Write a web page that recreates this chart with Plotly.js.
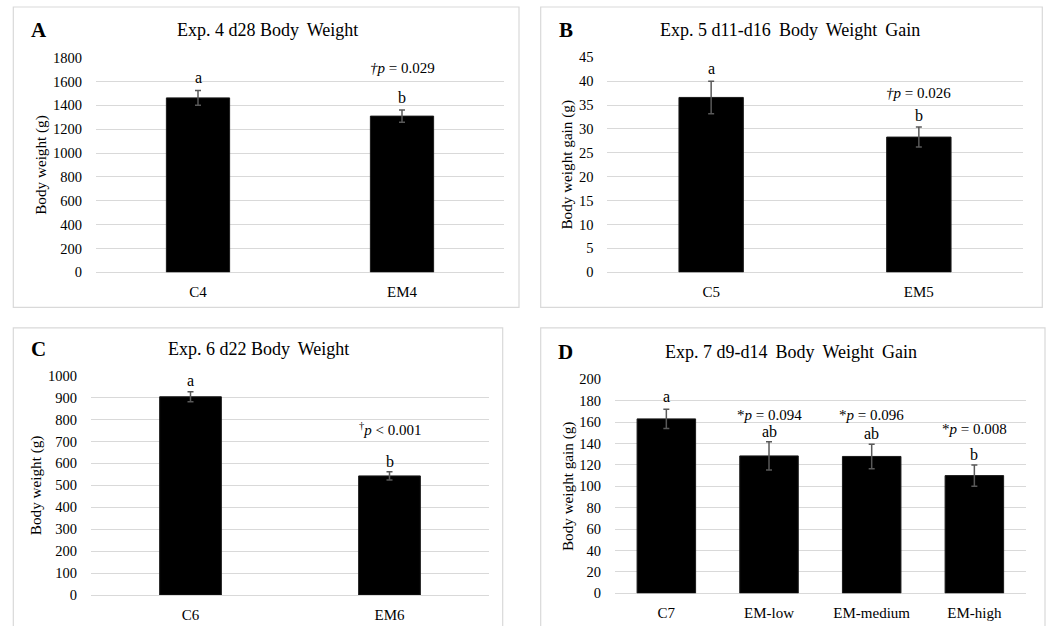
<!DOCTYPE html>
<html>
<head>
<meta charset="utf-8">
<script src="https://cdn.plot.ly/plotly-3.0.1.min.js"></script>
<style>
  html, body { margin: 0; padding: 0; background: #fff; }
  #chart { width: 1047px; height: 626px; }
</style>
</head>
<body>
<div id="chart"></div>
<script>
// Panel A: Exp. 4, day-28 body weight
const catsA = ['C4', 'EM4'];
const valsA = [1463, 1310];
const errA = [61, 52];
const lettersA = ['a', 'b'];
const pTextA = [null, '<i>\u2020p</i> = 0.029'];

// Panel B: Exp. 5, d11–d16 body weight gain
const catsB = ['C5', 'EM5'];
const valsB = [36.6, 28.3];
const errB = [3.4, 2.1];
const lettersB = ['a', 'b'];
const pTextB = [null, '<i>\u2020p</i> = 0.026'];

// Panel C: Exp. 6, day-22 body weight
const catsC = ['C6', 'EM6'];
const valsC = [904, 543];
const errC = [23, 19];
const lettersC = ['a', 'b'];
const pTextC = [null, '<sup>\u2020</sup><i>p</i> &lt; 0.001'];

// Panel D: Exp. 7, d9–d14 body weight gain
const catsD = ['C7', 'EM-low', 'EM-medium', 'EM-high'];
const valsD = [163, 128.4, 127.9, 110];
const errD = [9, 13.2, 11.5, 10];
const lettersD = ['a', 'ab', 'ab', 'b'];
const pTextD = [null, '*<i>p</i> = 0.094', '*<i>p</i> = 0.096', '*<i>p</i> = 0.008'];

const W = 1047, H = 626;
const FONT = 'Liberation Serif, Times New Roman, serif';
const GRID = '#d9d9d9';
const px = v => v / W;
const py = v => 1 - v / H;

const panels = [
  { key: '', cats: catsA, vals: valsA, err: errA, letters: lettersA, p: pTextA,
    ytitle: 'Body weight (g)', range: [0, 1800], dtick: 200, barW: 0.31,
    dom: { x: [96, 504], y: [57.7, 272.3] },
    title: 'Exp. 4 d28 Body\u2009 Weight', tpos: [267, 30], tag: 'A', tagpos: [39, 30],
    letterShift: [13, 12], pShift: [0, 42],
    frame: [13.3, 7, 519, 307.3] },
  { key: '2', cats: catsB, vals: valsB, err: errB, letters: lettersB, p: pTextB,
    ytitle: 'Body weight gain (g)', range: [0, 45], dtick: 5, barW: 0.31,
    dom: { x: [607.3, 1022.7], y: [57.3, 272.3] },
    title: 'Exp. 5 d11-d16\u2009 Body\u2009 Weight\u2009 Gain', tpos: [790, 30], tag: 'B', tagpos: [565.5, 30],
    letterShift: [13, 11.5], pShift: [0, 34.5],
    frame: [540.7, 7, 1042.3, 307.3] },
  { key: '3', cats: catsC, vals: valsC, err: errC, letters: lettersC, p: pTextC,
    ytitle: 'Body weight (g)', range: [0, 1000], dtick: 100, barW: 0.31,
    dom: { x: [91, 489], y: [375.7, 595] },
    title: 'Exp. 6 d22 Body\u2009 Weight', tpos: [258.3, 349.3], tag: 'C', tagpos: [38.5, 349.3],
    letterShift: [11, 10], pShift: [0, 42.5],
    frame: [13.3, 327.8, 502.7, 640] },
  { key: '4', cats: catsD, vals: valsD, err: errD, letters: lettersD, p: pTextD,
    ytitle: 'Body weight gain (g)', range: [0, 200], dtick: 20, barW: 0.57,
    dom: { x: [615, 1025.7], y: [379.3, 593.3] },
    title: 'Exp. 7 d9-d14\u2009 Body\u2009 Weight\u2009 Gain', tpos: [791, 351.7], tag: 'D', tagpos: [565, 351.7],
    letterShift: [13, 10, 11, 10], pShift: [0, 26.5, 29, 36],
    frame: [540.7, 327.8, 1045, 640] }
];

const data = [];
const layout = {
  width: W, height: H,
  margin: { l: 0, r: 0, t: 0, b: 0 },
  paper_bgcolor: '#ffffff',
  plot_bgcolor: '#ffffff',
  showlegend: false,
  font: { family: FONT, size: 14, color: '#000' },
  annotations: [],
  shapes: []
};

panels.forEach(p => {
  const xa = 'x' + p.key, ya = 'y' + p.key;
  data.push({
    type: 'bar',
    x: p.cats, y: p.vals,
    xaxis: xa, yaxis: ya,
    width: p.barW,
    marker: { color: '#000000', line: { color: '#1a1a1a', width: 1 } },
    error_y: { type: 'data', array: p.err, visible: true, color: '#595959', thickness: 1.5, width: 3 },
    hoverinfo: 'x+y'
  });

  layout['xaxis' + p.key] = {
    domain: [px(p.dom.x[0]), px(p.dom.x[1])],
    anchor: ya, type: 'category',
    showgrid: false, zeroline: false, showline: false,
    ticks: 'outside', ticklen: 6, tickcolor: 'rgba(0,0,0,0)',
    tickfont: { family: FONT, size: 15, color: '#000' },
    fixedrange: true
  };
  layout['yaxis' + p.key] = {
    domain: [py(p.dom.y[1]), py(p.dom.y[0])],
    anchor: xa, range: p.range, dtick: p.dtick, tick0: 0,
    showgrid: true, gridcolor: GRID, gridwidth: 1,
    zeroline: true, zerolinecolor: GRID, zerolinewidth: 1,
    showline: false,
    ticks: 'outside', ticklen: 10, tickcolor: 'rgba(0,0,0,0)',
    tickfont: { family: FONT, size: 14.5, color: '#000' },
    title: { text: p.ytitle, font: { family: FONT, size: 15.2, color: '#000' }, standoff: 2 },
    fixedrange: true
  };

  // panel title and tag letter
  layout.annotations.push({
    xref: 'paper', yref: 'paper', x: px(p.tpos[0]), y: py(p.tpos[1]),
    xanchor: 'center', yanchor: 'middle', showarrow: false,
    text: p.title, font: { family: FONT, size: 18, color: '#000' }
  });
  layout.annotations.push({
    xref: 'paper', yref: 'paper', x: px(p.tagpos[0]), y: py(p.tagpos[1]),
    xanchor: 'center', yanchor: 'middle', showarrow: false,
    text: '<b>' + p.tag + '</b>', font: { family: FONT, size: 21, color: '#000' }
  });

  // significance letters and p-values above each error bar
  p.cats.forEach((c, i) => {
    const top = p.vals[i] + p.err[i];
    layout.annotations.push({
      xref: xa, yref: ya, x: c, y: top,
      xanchor: 'center', yanchor: 'middle', yshift: p.letterShift[i],
      showarrow: false, text: p.letters[i],
      font: { family: FONT, size: 16, color: '#000' }
    });
    if (p.p[i]) {
      layout.annotations.push({
        xref: xa, yref: ya, x: c, y: top,
        xanchor: 'center', yanchor: 'middle', yshift: p.pShift[i],
        showarrow: false, text: p.p[i],
        font: { family: FONT, size: 15, color: '#000' }
      });
    }
  });

  // light frame around the panel
  layout.shapes.push({
    type: 'rect', xref: 'paper', yref: 'paper',
    x0: px(p.frame[0]), x1: px(p.frame[2]), y0: py(p.frame[3]), y1: py(p.frame[1]),
    line: { color: '#d9d9d9', width: 1.2 }, fillcolor: 'rgba(0,0,0,0)', layer: 'below'
  });
});

Plotly.newPlot('chart', data, layout, { displayModeBar: false, staticPlot: true });
</script>
</body>
</html>
